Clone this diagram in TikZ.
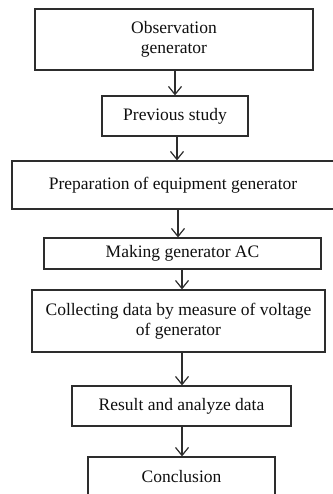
\documentclass[tikz,border=0pt]{standalone}
\usepackage{fontspec}
\setmainfont{Liberation Serif}
\usepackage{tikz}
\usetikzlibrary{arrows.meta,positioning}
\definecolor{boxline}{RGB}{45,45,45}
\definecolor{boxtext}{RGB}{15,15,15}
\tikzset{
  stage/.style={rectangle, draw=boxline, line width=1.2bp, fill=white, text=boxtext,
                align=center, inner sep=0pt, font=\fontsize{17.5bp}{20bp}\selectfont},
  arrow/.style={-{Straight Barb[length=8bp,width=13bp]}, line width=1.2bp, boxline},
}
\begin{document}
\begin{tikzpicture}[x=1bp,y=-1bp]
\useasboundingbox (0,0) rectangle (332,494);
\node[stage, minimum width=278bp, minimum height=61bp] (obs) at (174,39.5) {Observation\\generator};
\node[stage, minimum width=146bp, minimum height=40bp] (prev) at (175,116) {Previous study};
\node[stage, minimum width=322bp, minimum height=48bp] (prep) at (173,185) {Preparation of equipment generator};
\node[stage, minimum width=277bp, minimum height=31bp] (make) at (182.5,253.5) {Making generator AC};
\node[stage, minimum width=293bp, minimum height=62bp] (coll) at (178.5,321) {Collecting data by measure of voltage\\of generator};
\node[stage, minimum width=219bp, minimum height=40bp] (res) at (181.5,406) {Result and analyze data};
\node[stage, minimum width=187bp, minimum height=40bp] (conc) at (181.5,477) {Conclusion};

\foreach \a/\b/\x in {obs/prev/175, prev/prep/177, prep/make/178, make/coll/182, coll/res/182, res/conc/182}
  \draw[arrow] (\x,0 |- \a.south) -- (\x,0 |- \b.north);
\end{tikzpicture}
\end{document}
